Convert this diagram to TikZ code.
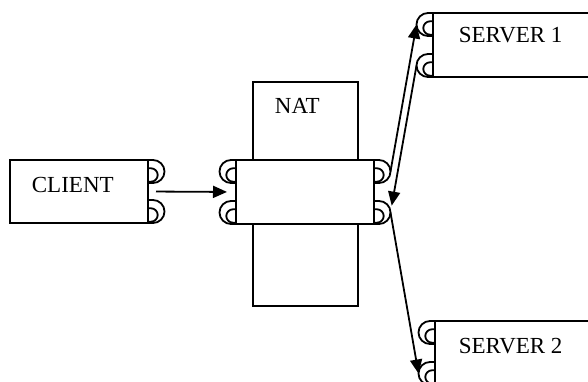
\documentclass[tikz,border=0pt]{standalone}
\usepackage{fontspec}
\setmainfont{Liberation Serif}
\usepackage{tikz}
\usetikzlibrary{arrows.meta,calc}

\tikzset{
  port/.pic={
    \draw (0,11.5) -- (5,11.5) arc (90:-90:11.5) -- (0,-11.5);
    \draw (0,3.2) -- (3,3.2) arc (90:-90:6.7) -- (0,-10.2);
  }
}

\begin{document}
\begin{tikzpicture}[x=1pt,y=1pt,line width=1.8pt,
  font=\fontsize{23}{27}\selectfont,
  box/.style={draw,fill=white,outer sep=0pt,inner sep=0pt,minimum height=64pt,anchor=north west},
  lbl/.style={inner sep=0pt,anchor=base west},
  arr/.style={-{Triangle[length=14pt,width=12pt]}}
]
\useasboundingbox (0,0) rectangle (588,-382);
\clip (0,0) rectangle (588,-382);
% ---- boites ----
\node[box,minimum width=138pt,minimum height=63pt] (client) at (10,-160) {};
\node[box,minimum width=105pt,minimum height=224pt] (natbig) at (253,-82) {};
\node[box,minimum width=138pt] (nat) at (236,-160) {};
\node[box,minimum width=200pt] (srvA) at (433,-13) {};
\node[box,minimum width=200pt] (srvB) at (435,-321) {};
% ---- textes ----
\node[lbl] (clientlbl) at (31,-192) {CLIENT};
\node[lbl] (natlbl) at (274,-114) {NAT};
\node[lbl] (srvAlbl) at (458,-43) {SERVER 1};
\node[lbl] (srvBlbl) at (458,-353) {SERVER 2};
% ---- prises ----
\foreach \b in {client,nat}{
  \pic at ($(\b.north east)+(0,-11.5)$) {port};
  \pic at ($(\b.south east)+(0,11.5)$) {port};
  \coordinate (\b-r1) at ($(\b.north east)+(16.5,-11.5)$);
  \coordinate (\b-r2) at ($(\b.south east)+(16.5,11.5)$);
}
\foreach \b in {nat,srvA,srvB}{
  \pic[xscale=-1] at ($(\b.north west)+(0,-11.5)$) {port};
  \pic[xscale=-1] at ($(\b.south west)+(0,11.5)$) {port};
  \coordinate (\b-l1) at ($(\b.north west)+(-16.5,-11.5)$);
  \coordinate (\b-l2) at ($(\b.south west)+(-16.5,11.5)$);
}
% ---- fleches ----
\draw[arr,shorten <=8pt,shorten >=9pt] (client.east) -- (nat.west);
\draw[arr] (nat-r1) -- (srvA-l1);
\draw[arr,shorten >=7pt] (srvA-l2) -- (nat-r2);
\draw[arr] (nat-r2) -- (srvB-l2);
\end{tikzpicture}
\end{document}
